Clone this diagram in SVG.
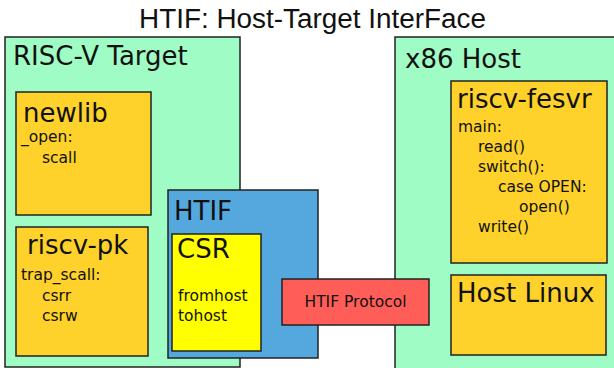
<svg xmlns="http://www.w3.org/2000/svg" width="614" height="368" viewBox="0 0 614 368">
<style>
.box{stroke:#222;stroke-width:1.5}
.green{fill:#9ffcc4}
.orange{fill:#fed12b}
.blue{fill:#55a8de}
.yellow{fill:#ffff00}
.red{fill:#ff5e58}
text{font-family:"DejaVu Sans",sans-serif;fill:#111}
.big{font-size:26px}
.small{font-size:15.5px}
.title{font-family:"Liberation Sans",sans-serif;font-size:27px}
</style>
<rect width="614" height="368" fill="#fff"/>
<text class="title" x="139" y="28" textLength="347" lengthAdjust="spacingAndGlyphs">HTIF: Host-Target InterFace</text>
<g id="riscv-target">
<rect class="box green" x="5" y="37" width="235" height="330"/>
<text class="big" x="13" y="65">RISC-V Target</text>
</g>
<g id="newlib">
<rect class="box orange" x="16" y="92" width="135" height="123"/>
<text class="big" x="23" y="122">newlib</text>
<text class="small" x="21" y="142">_open:</text>
<text class="small" x="42" y="163">scall</text>
</g>
<g id="riscv-pk">
<rect class="box orange" x="16" y="227" width="132" height="129"/>
<text class="big" x="27" y="254">riscv-pk</text>
<text class="small" x="21" y="280">trap_scall:</text>
<text class="small" x="42" y="301">csrr</text>
<text class="small" x="42" y="321">csrw</text>
</g>
<g id="x86-host">
<rect class="box green" x="395" y="37" width="225" height="340"/>
<text class="big" x="405" y="68">x86 Host</text>
</g>
<g id="riscv-fesvr">
<rect class="box orange" x="451" y="81" width="156" height="182"/>
<text class="big" x="457" y="108">riscv-fesvr</text>
<text class="small" x="458" y="132">main:</text>
<text class="small" x="478" y="152">read()</text>
<text class="small" x="478" y="172">switch():</text>
<text class="small" x="498" y="192">case OPEN:</text>
<text class="small" x="519" y="212">open()</text>
<text class="small" x="478" y="232">write()</text>
</g>
<g id="host-linux">
<rect class="box orange" x="451" y="275" width="155" height="80"/>
<text class="big" x="457" y="302">Host Linux</text>
</g>
<g id="htif">
<rect class="box blue" x="168" y="190" width="150" height="168"/>
<text class="big" x="174" y="220">HTIF</text>
</g>
<g id="csr">
<rect class="box yellow" x="172" y="234" width="89" height="117"/>
<text class="big" x="177" y="258">CSR</text>
<text class="small" x="178" y="301">fromhost</text>
<text class="small" x="178" y="321">tohost</text>
</g>
<g id="htif-protocol">
<rect class="box red" x="282" y="279" width="147" height="46"/>
<text class="small" x="355.5" y="307" text-anchor="middle" font-size="15">HTIF Protocol</text>
</g>
<g id="connectors"></g>
</svg>
